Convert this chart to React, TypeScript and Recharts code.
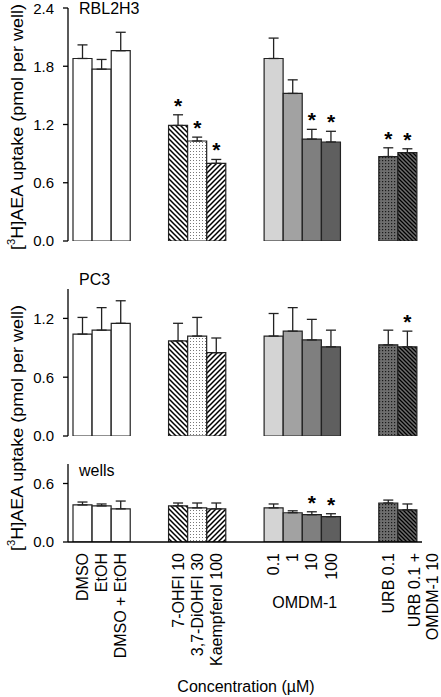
import React from 'react';
import { ComposedChart, Bar, Cell, ErrorBar, Scatter, XAxis, YAxis } from 'recharts';

// treatments, left to right
const treatments = [
  'DMSO', 'EtOH', 'DMSO + EtOH',
  '7-OHFI 10', '3,7-DiOHFI 30', 'Kaempferol 100',
  '0.1', '1', '10', '100',
  'URB 0.1', 'URB 0.1 +\nOMDM-1 10',
];
// empty slots (x2) after these treatment indices
const gapsAfter = [2, 5, 9];

const rblMean = [1.88, 1.77, 1.96, 1.19, 1.03, 0.8, 1.88, 1.52, 1.05, 1.02, 0.87, 0.91];
const rblErr = [0.14, 0.1, 0.19, 0.11, 0.04, 0.04, 0.21, 0.14, 0.1, 0.11, 0.09, 0.04];
const rblSig = [0, 0, 0, 1, 1, 1, 0, 0, 1, 1, 1, 1];

const pcMean = [1.04, 1.08, 1.15, 0.97, 1.02, 0.85, 1.02, 1.07, 0.98, 0.91, 0.93, 0.91];
const pcErr = [0.17, 0.23, 0.23, 0.18, 0.19, 0.15, 0.23, 0.24, 0.21, 0.17, 0.15, 0.16];
const pcSig = [0, 0, 0, 0, 0, 0, 0, 0, 0, 0, 0, 1];

const wellMean = [0.38, 0.37, 0.34, 0.37, 0.35, 0.34, 0.35, 0.3, 0.28, 0.26, 0.4, 0.33];
const wellErr = [0.03, 0.02, 0.08, 0.03, 0.05, 0.06, 0.04, 0.02, 0.03, 0.03, 0.03, 0.06];
const wellSig = [0, 0, 0, 0, 0, 0, 0, 0, 1, 1, 0, 0];

const FONT = '"Liberation Sans", Arial, sans-serif';

const fillFor = (p: string, i: number) =>
  ['#fff', '#fff', '#fff', `url(#${p}-hb)`, `url(#${p}-dt)`, `url(#${p}-hf)`,
    '#d4d4d4', '#a2a2a2', '#7f7f7f', '#5f5f5f', `url(#${p}-ud)`, `url(#${p}-uh)`][i];

const buildRows = (mean: number[], err: number[], sig: number[]) => {
  const rows: any[] = [];
  treatments.forEach((t, i) => {
    rows.push({ key: `t${i}`, idx: i, v: mean[i], e: [0, err[i]], star: sig[i] ? mean[i] + err[i] : null });
    if (gapsAfter.includes(i)) {
      rows.push({ key: `g${i}a`, idx: -1, v: null, star: null });
      rows.push({ key: `g${i}b`, idx: -1, v: null, star: null });
    }
  });
  return rows;
};

const Patterns = ({ p }: { p: string }) => (
  <defs>
    <pattern id={`${p}-hb`} width="5" height="5" patternUnits="userSpaceOnUse">
      <rect width="5" height="5" fill="#fff" />
      <path d="M-1,-1 L6,6 M-1,4 L1,6 M4,-1 L6,1" stroke="#000" strokeWidth="1.5" />
    </pattern>
    <pattern id={`${p}-hf`} width="5" height="5" patternUnits="userSpaceOnUse">
      <rect width="5" height="5" fill="#fff" />
      <path d="M-1,6 L6,-1 M-1,1 L1,-1 M4,6 L6,4" stroke="#000" strokeWidth="1.5" />
    </pattern>
    <pattern id={`${p}-dt`} width="3" height="3" patternUnits="userSpaceOnUse">
      <rect width="3" height="3" fill="#fff" />
      <rect x="1" y="1" width="1" height="1" fill="#777" />
    </pattern>
    <pattern id={`${p}-ud`} width="3" height="3" patternUnits="userSpaceOnUse">
      <rect width="3" height="3" fill="#6e6e6e" />
      <rect x="1" y="1" width="1.2" height="1.2" fill="#1a1a1a" />
    </pattern>
    <pattern id={`${p}-uh`} width="4" height="4" patternUnits="userSpaceOnUse">
      <rect width="4" height="4" fill="#6e6e6e" />
      <path d="M-1,-1 L5,5 M-1,3 L1,5 M3,-1 L5,1" stroke="#000" strokeWidth="1.3" />
    </pattern>
  </defs>
);

const Star = (props: any) => {
  const { cx, cy } = props;
  if (cy == null || isNaN(cy)) return <g />;
  return (
    <text x={cx} y={cy - 2} textAnchor="middle" fontSize={21} fontWeight="bold" fontFamily={FONT} fill="#000">*</text>
  );
};

const ConcTick = (props: any) => {
  const { x, y, payload } = props;
  const i = Number(String(payload.value).slice(1));
  if (String(payload.value)[0] !== 't') return <g />;
  const lines = treatments[i].split('\n');
  const offs = lines.length > 1 ? [7, 25] : [0];
  return (
    <g transform={`translate(${x},${y})`}>
      {lines.map((ln, k) => (
        <text key={k} transform="rotate(-90)" x={0} y={offs[k]} textAnchor="end"
          dominantBaseline="central" fontSize={16} fontFamily={FONT} fill="#000">{ln}</text>
      ))}
      {i === 7 && (
        <text x={12} y={49} textAnchor="middle" dominantBaseline="central"
          fontSize={16} fontFamily={FONT} fill="#000">OMDM-1</text>
      )}
    </g>
  );
};

interface PanelProps {
  p: string;
  rows: any[];
  top: number;
  height: number;
  marginTop: number;
  marginBottom: number;
  domain: [number, number];
  ticks: number[];
  bottomAxis?: boolean;
}

const Panel = ({ p, rows, top, height, marginTop, marginBottom, domain, ticks, bottomAxis }: PanelProps) => (
  <div style={{ position: 'absolute', left: 0, top }}>
    <ComposedChart width={441} height={height} data={rows} barCategoryGap={0} barGap={0}
      margin={{ top: marginTop, right: 19, bottom: marginBottom, left: 8 }}>
      <Patterns p={p} />
      <XAxis dataKey="key" type="category" interval={0} padding={{ left: 5, right: 5 }}
        axisLine={{ stroke: '#000', strokeWidth: 1.3 }} tickLine={false}
        height={bottomAxis ? 150 : 0} tickSize={0} tickMargin={11}
        tick={bottomAxis ? <ConcTick /> : false} />
      <YAxis type="number" domain={domain} ticks={ticks} width={60} allowDataOverflow
        axisLine={{ stroke: '#000', strokeWidth: 1.3 }} tickLine={{ stroke: '#000', strokeWidth: 1.3 }}
        tickSize={5} tickMargin={9} tickFormatter={(v: number) => v.toFixed(1)}
        tick={{ fontSize: 15, fontFamily: FONT, fill: '#000' }} />
      <Bar dataKey="v" stroke="#222" strokeWidth={1.2} isAnimationActive={false}>
        {rows.map((r, i) => (
          <Cell key={i} fill={r.idx >= 0 ? fillFor(p, r.idx) : 'none'} />
        ))}
        <ErrorBar dataKey="e" direction="y" width={5} stroke="#222" strokeWidth={1.3} />
      </Bar>
      <Scatter dataKey="star" shape={<Star />} isAnimationActive={false} />
    </ComposedChart>
  </div>
);

const YTitle = ({ cx, cy }: { cx: number; cy: number }) => (
  <text transform={`translate(${cx},${cy}) rotate(-90)`} textAnchor="middle" dominantBaseline="central"
    fontSize={16} fontFamily={FONT} fill="#000" textLength={246} lengthAdjust="spacingAndGlyphs">
    <tspan>[</tspan>
    <tspan fontSize={10} dy={-6}>3</tspan>
    <tspan dy={6}>H]AEA uptake (pmol per well)</tspan>
  </text>
);

export default function App() {
  const rbl = buildRows(rblMean, rblErr, rblSig);
  const pc = buildRows(pcMean, pcErr, pcSig);
  const wells = buildRows(wellMean, wellErr, wellSig);
  return (
    <div style={{ position: 'absolute', left: 0, top: 0, width: 441, height: 697, background: '#fff' }}>
      <Panel p="a" rows={rbl} top={0} height={250} marginTop={8} marginBottom={9}
        domain={[0, 2.4]} ticks={[0, 0.6, 1.2, 1.8, 2.4]} />
      <Panel p="b" rows={pc} top={280} height={165} marginTop={9} marginBottom={9}
        domain={[0, 1.5]} ticks={[0, 0.6, 1.2]} />
      <Panel p="c" rows={wells} top={455} height={242} marginTop={9} marginBottom={5}
        domain={[0, 0.8]} ticks={[0, 0.6]} bottomAxis />
      <svg width={441} height={697} style={{ position: 'absolute', left: 0, top: 0, pointerEvents: 'none' }}>
        <YTitle cx={17} cy={127} />
        <YTitle cx={17} cy={428} />
        <text x={79} y={14} fontSize={16} fontFamily={FONT} fill="#000">RBL2H3</text>
        <text x={79} y={285} fontSize={16} fontFamily={FONT} fill="#000">PC3</text>
        <text x={79} y={476} fontSize={16} fontFamily={FONT} fill="#000">wells</text>
        <text x={246} y={692} textAnchor="middle"
          fontSize={16} fontFamily={FONT} fill="#000">Concentration (µM)</text>
      </svg>
    </div>
  );
}
